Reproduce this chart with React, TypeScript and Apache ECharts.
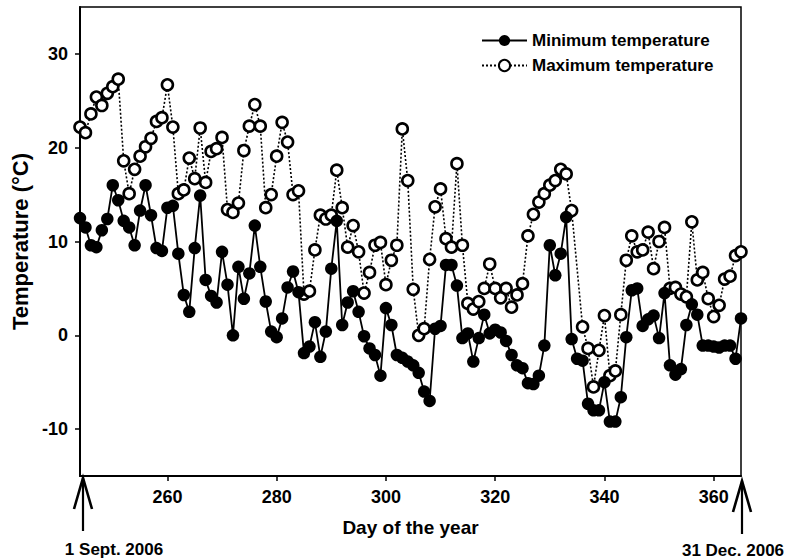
import React, { useEffect, useRef } from "react";
import * as echarts from "echarts";

const firstDay = 244; // 1 Sept. 2006
const lastDay = 365; // 31 Dec. 2006
const days: number[] = [];
for (let d = firstDay; d <= lastDay; d++) days.push(d);

const xTicks = [260, 280, 300, 320, 340, 360];
const yTicks = [-10, 0, 10, 20, 30];
const yMin = -15;
const yMax = 35;

// Minimum temperature (°C), days 244..365
const minTemp: number[] = [
  12.5, 11.5, 9.6, 9.4, 11.2, 12.4, 16.0, 14.4, 12.2, 11.5, // 244-253
  9.6, 13.3, 16.0, 12.8, 9.3, 9.0, 13.6, 13.8, 8.7, 4.3, // 254-263
  2.5, 9.3, 14.9, 5.9, 4.2, 3.5, 8.9, 5.4, 0.0, 7.3, // 264-273
  3.9, 6.6, 11.7, 7.3, 3.6, 0.4, -0.2, 1.8, 5.1, 6.8, // 274-283
  4.6, -1.9, -1.2, 1.4, -2.3, 0.4, 7.1, 12.2, 1.1, 3.5, // 284-293
  4.7, 2.5, -0.1, -1.4, -2.1, -4.3, 2.9, 1.1, -2.1, -2.4, // 294-303
  -2.8, -3.2, -4.0, -6.0, -7.0, 0.7, 1.0, 7.5, 7.5, 5.3, // 304-313
  -0.3, 0.2, -2.8, -0.3, 2.2, 0.2, 0.6, 0.3, -0.6, -2.1, // 314-323
  -3.2, -3.5, -5.1, -5.2, -4.3, -1.1, 9.6, 6.4, 8.7, 12.6, // 324-333
  -0.4, -2.5, -2.7, -7.3, -8.0, -8.0, -5.0, -9.2, -9.2, -6.6, // 334-343
  -0.2, 4.8, 5.0, 1.0, 1.7, 2.1, -0.3, 4.5, -3.2, -4.2, // 344-353
  -3.6, 1.1, 3.3, 2.2, -1.1, -1.1, -1.2, -1.3, -1.1, -1.1, // 354-363
  -2.5, 1.8, // 364-365
];

// Maximum temperature (°C), days 244..365 (null: not visible)
const maxTemp: (number | null)[] = [
  22.2, 21.6, 23.6, 25.4, 24.5, 25.8, 26.5, 27.3, 18.6, 15.1, // 244-253
  17.7, 19.1, 20.1, 21.0, 22.8, 23.2, 26.7, 22.2, 15.1, 15.5, // 254-263
  18.9, 16.7, 22.1, 16.3, 19.6, 19.9, 21.1, 13.4, 13.1, 14.1, // 264-273
  19.7, 22.3, 24.6, 22.3, 13.6, 15.0, 19.1, 22.7, 20.6, 15.0, // 274-283
  15.4, 4.4, 4.7, 9.1, 12.8, 12.4, 12.8, 17.6, 13.6, 9.4, // 284-293
  11.7, 8.9, 4.5, 6.7, 9.6, 9.9, 5.4, 8.0, 9.6, 22.0, // 294-303
  16.5, 4.9, 0.0, 0.7, 8.1, 13.7, 15.6, 10.3, 9.4, 18.3, // 304-313
  9.6, 3.4, 2.8, 3.6, 5.0, 7.6, 5.0, 4.0, 5.0, 3.0, // 314-323
  4.3, 5.5, 10.6, 12.9, 14.2, 15.1, 16.0, 16.5, 17.7, 17.2, // 324-333
  13.3, null, 0.9, -1.4, -5.5, -1.6, 2.1, -4.3, -3.8, 2.2, // 334-343
  8.0, 10.6, 8.9, 9.1, 11.0, 7.1, 10.0, 11.5, 5.0, 5.1, // 344-353
  4.4, 4.1, 12.1, 5.9, 6.7, 3.9, 2.0, 3.2, 6.0, 6.3, // 354-363
  8.5, 8.9, // 364-365
];

const seriesNames = ["Minimum temperature", "Maximum temperature"];
const xTitle = "Day of the year";
const yTitle = "Temperature (°C)";
const startLabel = "1 Sept. 2006";
const endLabel = "31 Dec. 2006";

const FONT = "'Liberation Sans', Arial, sans-serif";

export default function App() {
  const ref = useRef<HTMLDivElement>(null);
  useEffect(() => {
    if (!ref.current) return;
    const chart = echarts.init(ref.current, null, { renderer: "svg" });
    const minData = days.map((d, i) => [d, minTemp[i]]);
    const maxData = days.map((d, i) => [d, maxTemp[i]]);
    const option: any = {
      animation: false,
      backgroundColor: "#ffffff",
      textStyle: { fontFamily: FONT },
      grid: {
        left: 80,
        right: 56,
        top: 7,
        bottom: 84,
        show: true,
        borderColor: "#000",
        borderWidth: 1.5,
        backgroundColor: "transparent",
      },
      legend: {
        data: seriesNames,
        orient: "vertical",
        left: 476,
        top: 27,
        itemWidth: 45,
        itemHeight: 14,
        itemGap: 8,
        textStyle: {
          fontFamily: FONT,
          fontWeight: "bold",
          fontSize: 17,
          color: "#000",
        },
      },
      xAxis: {
        type: "value",
        min: firstDay,
        max: lastDay,
        name: xTitle,
        nameLocation: "middle",
        nameGap: 42,
        nameTextStyle: { fontFamily: FONT, fontWeight: "bold", fontSize: 19, color: "#000" },
        axisLine: { onZero: false, lineStyle: { color: "#000", width: 2 } },
        axisTick: { show: true, customValues: xTicks, length: 5, lineStyle: { color: "#000", width: 1.5 } },
        axisLabel: {
          customValues: xTicks,
          margin: 12,
          fontFamily: FONT,
          fontWeight: "bold",
          fontSize: 18,
          color: "#000",
        },
        splitLine: { show: false },
      },
      yAxis: {
        type: "value",
        min: yMin,
        max: yMax,
        name: yTitle,
        nameLocation: "middle",
        nameRotate: 90,
        nameGap: 45,
        nameTextStyle: { fontFamily: FONT, fontWeight: "bold", fontSize: 22, color: "#000" },
        axisLine: { onZero: false, lineStyle: { color: "#000", width: 2 } },
        axisTick: { show: true, customValues: yTicks, length: 5, lineStyle: { color: "#000", width: 1.5 } },
        axisLabel: {
          customValues: yTicks,
          margin: 12,
          fontFamily: FONT,
          fontWeight: "bold",
          fontSize: 18,
          color: "#000",
        },
        splitLine: { show: false },
      },
      series: [
        {
          name: seriesNames[1],
          type: "line",
          data: maxData,
          connectNulls: true,
          symbol: "circle",
          symbolSize: 11,
          lineStyle: { color: "#000", width: 1.6, type: [2, 2] },
          itemStyle: { color: "#fff", borderColor: "#000", borderWidth: 2.6 },
          z: 2,
        },
        {
          name: seriesNames[0],
          type: "line",
          data: minData,
          symbol: "circle",
          symbolSize: 12.5,
          lineStyle: { color: "#000", width: 1.8 },
          itemStyle: { color: "#000", borderColor: "#000", borderWidth: 0 },
          z: 3,
        },
      ],
    };
    chart.setOption(option);

    const xL = chart.convertToPixel({ xAxisIndex: 0 }, firstDay) as number;
    const xR = chart.convertToPixel({ xAxisIndex: 0 }, lastDay) as number;
    const yB = chart.convertToPixel({ yAxisIndex: 0 }, yMin) as number;

    const arrow = (x: number, top: number, bottom: number) => [
      {
        type: "line",
        shape: { x1: x, y1: top, x2: x, y2: bottom },
        style: { stroke: "#000", lineWidth: 2.2 },
        silent: true,
      },
      {
        type: "polyline",
        shape: { points: [[x - 9, top + 31], [x, top], [x + 9, top + 31]] },
        style: { stroke: "#000", lineWidth: 2.6, fill: null },
        silent: true,
      },
    ];

    chart.setOption({
      graphic: [
        ...arrow(xL + 3, yB + 2, yB + 55),
        ...arrow(xR + 1, yB + 5, yB + 58),
        {
          type: "text",
          x: xL + 34,
          y: yB + 73,
          style: {
            text: startLabel,
            fill: "#000",
            font: `bold 17px ${FONT}`,
            textAlign: "center",
            textVerticalAlign: "middle",
          },
        },
        {
          type: "text",
          x: xR - 8,
          y: yB + 74,
          style: {
            text: endLabel,
            fill: "#000",
            font: `bold 17px ${FONT}`,
            textAlign: "center",
            textVerticalAlign: "middle",
          },
        },
      ],
    });

    return () => chart.dispose();
  }, []);

  return (
    <div
      ref={ref}
      style={{ position: "fixed", left: 0, top: 0, width: 797, height: 560, background: "#fff" }}
    />
  );
}
